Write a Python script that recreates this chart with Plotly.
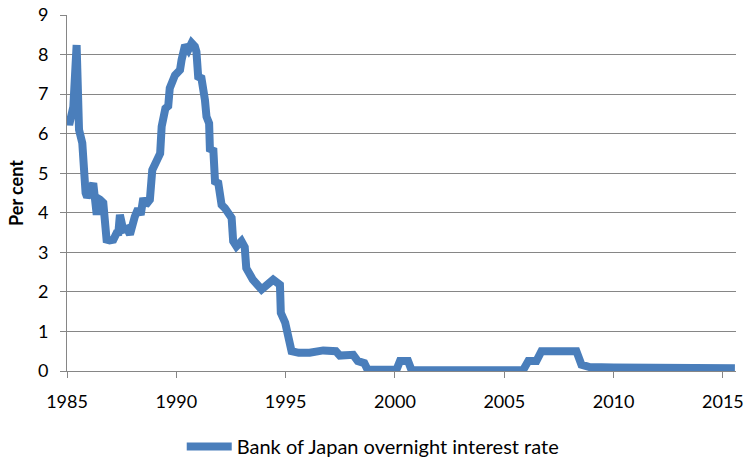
import plotly.graph_objects as go

# Bank of Japan overnight interest rate (per cent)
years = [
    1985.05, 1985.1, 1985.29, 1985.44, 1985.55, 1985.7, 1985.85, 1985.92, 1986.05,
    1986.2, 1986.36, 1986.45, 1986.51, 1986.66, 1986.81, 1986.95, 1987.12, 1987.27,
    1987.35, 1987.42, 1987.57, 1987.75, 1987.88, 1988.1, 1988.25, 1988.37, 1988.49,
    1988.6, 1988.79, 1988.9, 1989.1, 1989.26, 1989.33, 1989.42, 1989.5, 1989.63,
    1989.7, 1989.94, 1990.17, 1990.24, 1990.4, 1990.55, 1990.7, 1990.85, 1990.92,
    1991.0, 1991.15, 1991.31, 1991.38, 1991.5, 1991.54, 1991.69, 1991.77, 1991.92,
    1992.07, 1992.22, 1992.38, 1992.53, 1992.6, 1992.75, 1992.98, 1993.13, 1993.2,
    1993.5, 1993.9, 1994.1, 1994.43, 1994.74, 1994.78, 1994.98, 1995.12, 1995.27,
    1995.6, 1996.1, 1996.72, 1997.3, 1997.48, 1998.09, 1998.3, 1998.6, 1998.75,
    1999.0, 2000.07, 2000.23, 2000.6, 2000.76, 2002.0, 2004.0, 2005.86, 2006.1,
    2006.47, 2006.7, 2007.5, 2008.3, 2008.53, 2008.9, 2010.0, 2011.0, 2012.0,
    2013.0, 2014.0, 2015.0, 2015.55,
]
rates = [
    6.43, 6.22, 6.68, 8.24, 6.1, 5.76, 4.5, 4.4, 4.5,
    4.75, 3.95, 4.35, 4.33, 4.25, 3.32, 3.3, 3.32, 3.49,
    3.5, 3.95, 3.57, 3.6, 3.45, 3.9, 4.1, 3.95, 4.37,
    4.2, 4.33, 5.08, 5.38, 5.5, 6.18, 6.43, 6.64, 6.7,
    7.15, 7.48, 7.61, 7.86, 8.24, 8.12, 8.29, 8.2, 8.07,
    7.44, 7.4, 6.85, 6.43, 6.26, 5.55, 5.63, 4.79, 4.75,
    4.2, 4.12, 3.96, 3.87, 3.28, 3.15, 3.28, 3.13, 2.6,
    2.31, 2.06, 2.14, 2.31, 2.18, 1.47, 1.22, 0.79, 0.5,
    0.46, 0.46, 0.52, 0.5, 0.39, 0.41, 0.25, 0.2, 0.03,
    0.03, 0.03, 0.25, 0.25, 0.02, 0.02, 0.02, 0.02, 0.25,
    0.25, 0.5, 0.5, 0.5, 0.16, 0.1, 0.09, 0.08, 0.08,
    0.07, 0.07, 0.07, 0.07,
]
x_ticks = [1985, 1990, 1995, 2000, 2005, 2010, 2015]
y_ticks = list(range(0, 10))

FONT = "Lato, 'Open Sans', sans-serif"
GRID = "#868686"

fig = go.Figure()
fig.add_trace(go.Scatter(
    x=years, y=rates, mode="lines",
    name="Bank of Japan overnight interest rate",
    line=dict(color="#4a7ebb", width=8, shape="linear"),
))

fig.update_layout(
    width=746, height=457,
    margin=dict(l=67, r=10, t=15, b=86, autoexpand=False),
    paper_bgcolor="white", plot_bgcolor="white",
    font=dict(family=FONT, size=18, color="#000000"),
    showlegend=True,
    legend=dict(orientation="h", x=0.457, xanchor="center", y=-0.212, yanchor="middle",
                font=dict(size=20), itemwidth=45),
    xaxis=dict(
        range=[1985, 2015.6], tickvals=x_ticks, ticktext=[str(t) for t in x_ticks],
        showgrid=False, zeroline=False, automargin=False,
        showline=True, linecolor=GRID, linewidth=1,
        ticks="outside", ticklen=6, tickcolor=GRID, tickwidth=1,
        ticklabelstandoff=8, ticklabeloverflow="allow",
    ),
    yaxis=dict(
        range=[0, 9], tickvals=y_ticks, automargin=False,
        showgrid=True, gridcolor=GRID, gridwidth=1, zeroline=False,
        showline=True, linecolor=GRID, linewidth=1,
        ticks="outside", ticklen=6, tickcolor=GRID, tickwidth=1,
        ticklabelstandoff=8, ticklabeloverflow="allow",
        title=dict(text="<b>Per cent</b>", font=dict(size=18), standoff=9),
    ),
)

fig.write_html("out.html", config={"displayModeBar": False},
               post_script="document.body.style.margin='0';")
